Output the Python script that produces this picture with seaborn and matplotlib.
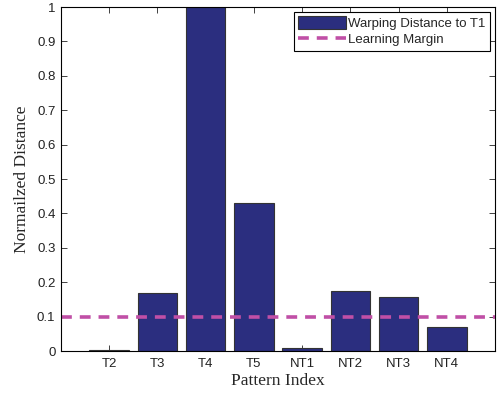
import matplotlib
matplotlib.use("Agg")
import matplotlib.pyplot as plt
import seaborn as sns

# valores
patrones = ["T2", "T3", "T4", "T5", "NT1", "NT2", "NT3", "NT4"]
distancias = [0.002, 0.169, 1.0, 0.43, 0.009, 0.176, 0.158, 0.07]
margen_aprendizaje = 0.1
marcas_y = [0, 0.1, 0.2, 0.3, 0.4, 0.5, 0.6, 0.7, 0.8, 0.9, 1]
etiquetas_y = ["0", "0.1", "0.2", "0.3", "0.4", "0.5", "0.6", "0.7", "0.8", "0.9", "1"]

sns.set_theme(style="white")
plt.rcParams["font.family"] = ["Liberation Sans", "DejaVu Sans"]
plt.rcParams["xtick.direction"] = "in"
plt.rcParams["ytick.direction"] = "in"

fig = plt.figure(figsize=(4.97, 3.94), dpi=100)
ax = fig.add_axes([0.1227, 0.109, 0.8733, 0.873])

sns.barplot(
    x=patrones,
    y=distancias,
    color="#2b2e7f",
    saturation=1,
    width=0.82,
    edgecolor="#333333",
    linewidth=0.8,
    label="Warping Distance to T1",
    ax=ax,
)
ax.axhline(
    margen_aprendizaje,
    color="#c04fa6",
    linestyle=(0, (3, 2.2)),
    linewidth=2.6,
    label="Learning Margin",
)

ax.set_xlim(-1, 8)
ax.set_ylim(0, 1)
ax.set_yticks(marcas_y)
ax.set_yticklabels(etiquetas_y)
ax.tick_params(axis="both", labelsize=9.5, colors="#222222", length=4, width=0.6,
               top=True, right=True, bottom=True, left=True, pad=5)
ax.tick_params(axis="y", pad=4)
for lado in ax.spines.values():
    lado.set_color("black")
    lado.set_linewidth(0.8)

ax.set_xlabel("Pattern Index", family="Liberation Serif", fontsize=12.5, labelpad=2)
ax.set_ylabel("Normailzed Distance", family="Liberation Serif", fontsize=12.5, labelpad=5)

manejadores, textos = ax.get_legend_handles_labels()
orden = [textos.index("Warping Distance to T1"), textos.index("Learning Margin")]
leyenda = ax.legend(
    [manejadores[i] for i in orden],
    [textos[i] for i in orden],
    loc="upper right",
    fontsize=9.5,
    frameon=True,
    fancybox=False,
    edgecolor="black",
    framealpha=1,
    borderpad=0.35,
    handlelength=3.6,
    handleheight=1.1,
    handletextpad=0.2,
    labelspacing=0.15,
    borderaxespad=0.35,
)
leyenda.get_frame().set_linewidth(0.8)

fig.savefig("out.png", dpi=100)
